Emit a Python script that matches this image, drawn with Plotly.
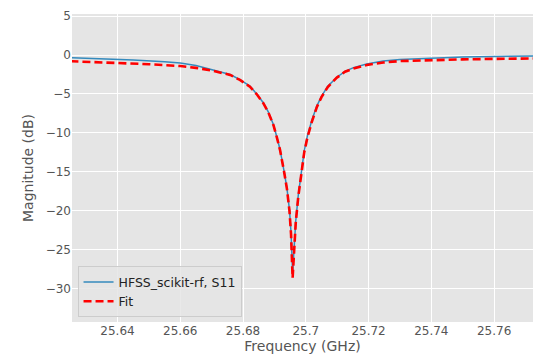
import plotly.graph_objects as go

# HFSS simulated S11 (GHz, dB)
hfss_freq = [25.625, 25.635, 25.645, 25.655, 25.660, 25.665, 25.670, 25.6759, 25.679, 25.6822,
             25.6845, 25.6865, 25.688, 25.6897, 25.6908, 25.6918, 25.6931, 25.6940, 25.6948, 25.6953,
             25.6958, 25.6963, 25.6968, 25.6976, 25.6985, 25.6995, 25.7005, 25.7019, 25.7035, 25.7050,
             25.7070, 25.7099, 25.7125, 25.7152, 25.7194, 25.7247, 25.730, 25.740, 25.750, 25.760, 25.775]
hfss_db = [-0.35, -0.48, -0.65, -0.88, -1.02, -1.35, -1.85, -2.50, -3.15, -4.00,
           -5.05, -6.15, -7.25, -8.95, -10.55, -12.15, -14.95, -17.1, -19.9, -22.8,
           -28.0, -24.2, -21.3, -18.0, -15.0, -12.3, -10.4, -8.4, -6.55, -5.3,
           -4.0, -2.85, -2.1, -1.62, -1.15, -0.78, -0.58, -0.38, -0.27, -0.19, -0.12]

# Fit (GHz, dB)
fit_freq = [25.625, 25.640, 25.650, 25.660, 25.665, 25.670, 25.6759, 25.679, 25.6822, 25.6845,
            25.6865, 25.688, 25.6897, 25.6908, 25.6918, 25.6931, 25.6940, 25.6948, 25.6953, 25.6958,
            25.6963, 25.6968, 25.6976, 25.6985, 25.6995, 25.7005, 25.7019, 25.7035, 25.7050, 25.7070,
            25.7099, 25.7125, 25.7152, 25.7194, 25.7247, 25.730, 25.740, 25.750, 25.760, 25.775]
fit_db = [-0.80, -1.00, -1.18, -1.42, -1.65, -1.98, -2.56, -3.2, -4.06, -5.1,
          -6.2, -7.3, -9.0, -10.6, -12.2, -15.0, -17.2, -20.0, -23.0, -28.6,
          -24.5, -21.5, -18.2, -15.2, -12.5, -10.6, -8.6, -6.7, -5.4, -4.1,
          -2.9, -2.15, -1.72, -1.28, -0.96, -0.78, -0.64, -0.56, -0.50, -0.44]

x_ticks = [25.64, 25.66, 25.68, 25.70, 25.72, 25.74, 25.76]
x_tick_labels = ["25.64", "25.66", "25.68", "25.7", "25.72", "25.74", "25.76"]
y_ticks = [5, 0, -5, -10, -15, -20, -25, -30]

fig = go.Figure()
fig.add_trace(go.Scatter(x=hfss_freq, y=hfss_db, mode="lines", name="HFSS_scikit-rf, S11",
                         line=dict(color="#348ABD", width=1.5)))
fig.add_trace(go.Scatter(x=fit_freq, y=fit_db, mode="lines", name="Fit",
                         line=dict(color="#FF0000", width=2.6, dash="8px,4px")))

fig.update_layout(
    width=533, height=361,
    margin=dict(l=72, r=0, t=14, b=39),
    paper_bgcolor="white", plot_bgcolor="#E5E5E5",
    font=dict(family="DejaVu Sans", color="#555555", size=12),
    showlegend=True,
    legend=dict(x=0.012, y=0.015, xanchor="left", yanchor="bottom",
                bgcolor="rgba(229,229,229,0.85)", bordercolor="#CCCCCC", borderwidth=1,
                font=dict(size=12.5, color="#222222"), tracegroupgap=0),
)
fig.update_xaxes(range=[25.6255, 25.7724], tickvals=x_ticks, ticktext=x_tick_labels,
                 showgrid=True, gridcolor="white", gridwidth=1, zeroline=False, showline=False,
                 ticks="", tickfont=dict(size=12, color="#555555"),
                 title=dict(text="Frequency (GHz)", font=dict(size=14, color="#555555"), standoff=4))
fig.update_yaxes(range=[-34.25, 5.26], tickvals=y_ticks,
                 showgrid=True, gridcolor="white", gridwidth=1, zeroline=False, showline=False,
                 ticks="", tickfont=dict(size=12, color="#555555"),
                 title=dict(text="Magnitude (dB)", font=dict(size=14, color="#555555"), standoff=8))

fig.write_html("out.html",
               config={"displayModeBar": False},
               post_script="document.body.style.margin='0';document.body.style.overflow='hidden';")
